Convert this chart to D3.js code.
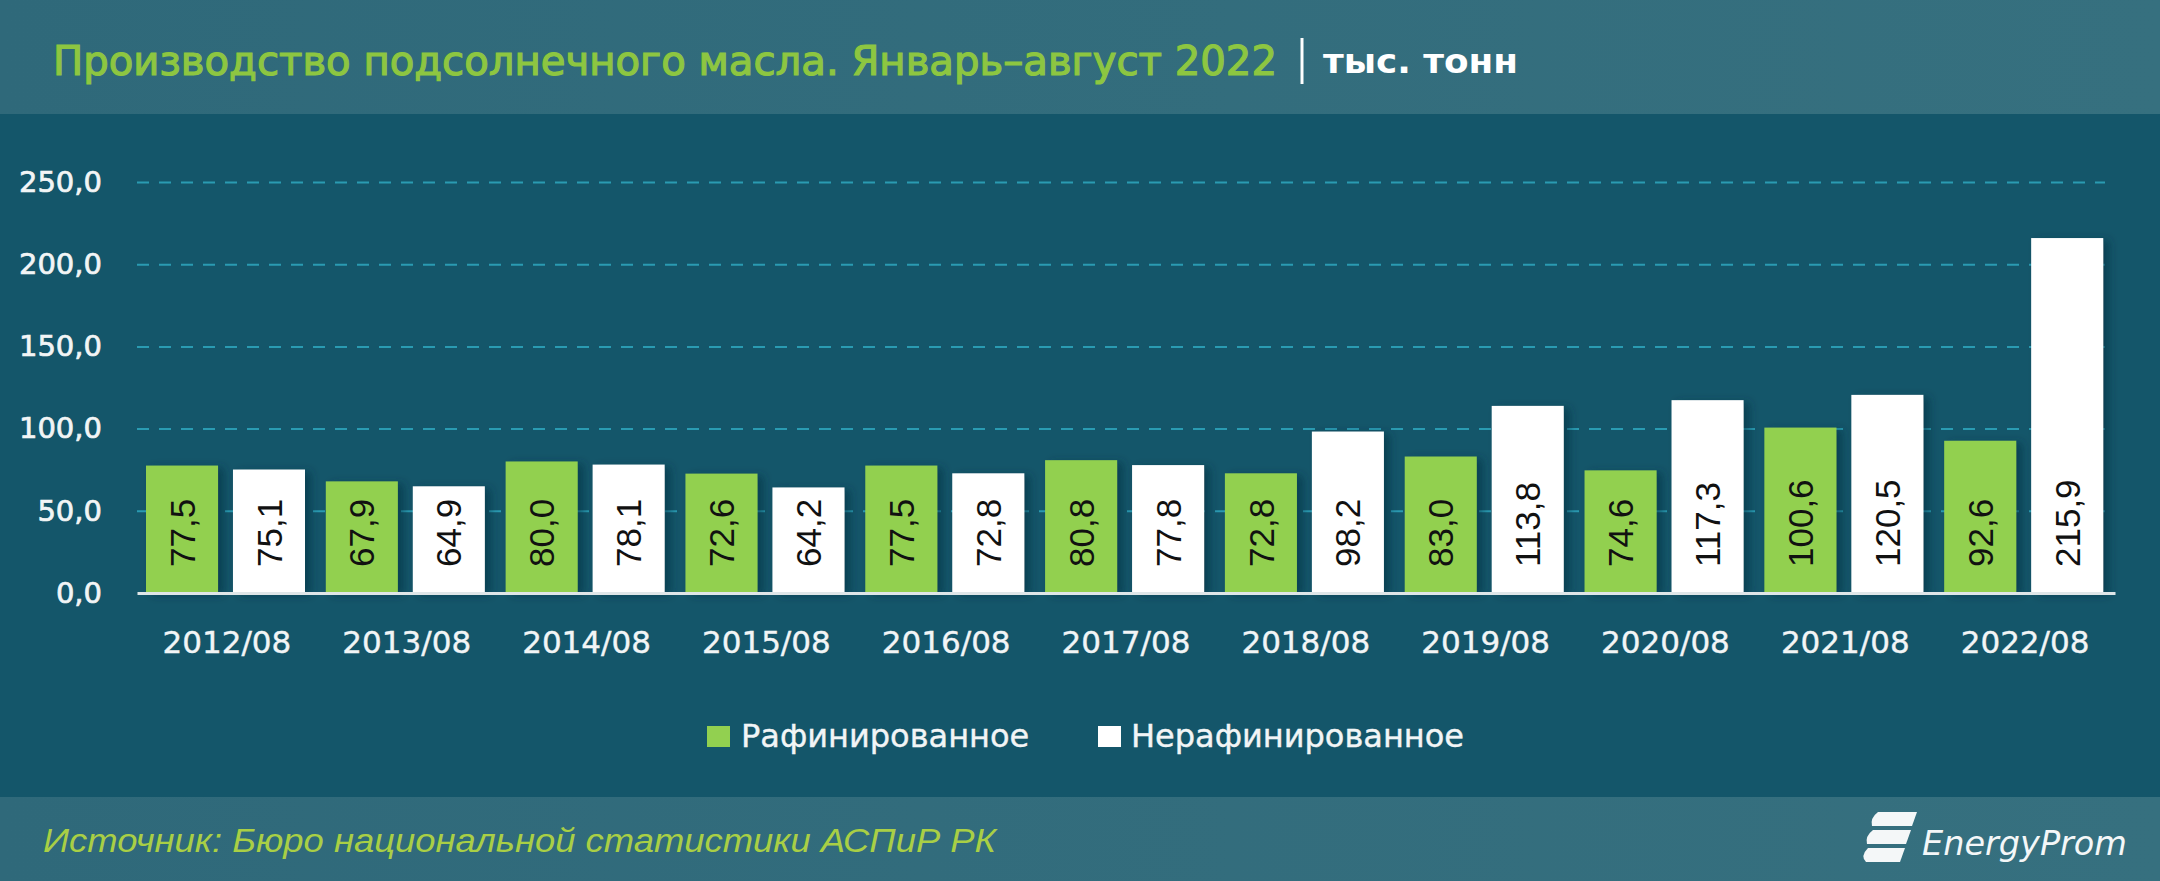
<!DOCTYPE html>
<html>
<head>
<meta charset="utf-8">
<script src="https://cdn.jsdelivr.net/npm/d3@7"></script>
<style>
  html, body { margin: 0; padding: 0; background: #14566a; }
  svg { display: block; }
</style>
</head>
<body>
<svg id="chart" width="2160" height="881"></svg>
<script>
// ---- data ----
const categories = ["2012/08","2013/08","2014/08","2015/08","2016/08","2017/08","2018/08","2019/08","2020/08","2021/08","2022/08"];
const refined   = [77.5, 67.9, 80.0, 72.6, 77.5, 80.8, 72.8, 83.0, 74.6, 100.6, 92.6];
const unrefined = [75.1, 64.9, 78.1, 64.2, 72.8, 77.8, 98.2, 113.8, 117.3, 120.5, 215.9];
const seriesNames = ["Рафинированное", "Нерафинированное"];
const yTicks = [0, 50, 100, 150, 200, 250];
const titleText = "Производство подсолнечного масла. Январь–август 2022";
const unitText = "тыс. тонн";
const sourceText = "Источник: Бюро национальной статистики АСПиР РК";

// ---- setup ----
const W = 2160, H = 881;
const svg = d3.select("#chart");
const fmt = d3.formatLocale({decimal: ",", thousands: " ", grouping: [3], currency: ["", ""]}).format(".1f");
const colors = {raf: "#92d050", nraf: "#ffffff"};

const defs = svg.append("defs");
const grad = defs.append("linearGradient").attr("id", "band").attr("x1", 0).attr("x2", 1).attr("y1", 0).attr("y2", 0);
grad.append("stop").attr("offset", "0%").attr("stop-color", "#2f697a");
grad.append("stop").attr("offset", "100%").attr("stop-color", "#36707f");
const sh = defs.append("filter").attr("id", "shadow").attr("x", "-20%").attr("y", "-10%").attr("width", "150%").attr("height", "130%");
sh.append("feDropShadow").attr("dx", 6).attr("dy", 2).attr("stdDeviation", 4)
  .attr("flood-color", "#06303c").attr("flood-opacity", 0.55);

// backgrounds
svg.append("rect").attr("x", 0).attr("y", 0).attr("width", W).attr("height", 114).attr("fill", "url(#band)");
svg.append("rect").attr("x", 0).attr("y", 114).attr("width", W).attr("height", 683).attr("fill", "#14566a");
svg.append("rect").attr("x", 0).attr("y", 797).attr("width", W).attr("height", 84).attr("fill", "url(#band)");

// title
svg.append("text").attr("x", 53).attr("y", 75)
  .attr("font-family", "'DejaVu Sans Condensed', 'Liberation Sans Narrow', sans-serif")
  .attr("font-size", 40).attr("fill", "#8dc641")
  .attr("stroke", "#8dc641").attr("stroke-width", 1.1)
  .attr("textLength", 1224).attr("lengthAdjust", "spacingAndGlyphs")
  .text(titleText);
svg.append("line").attr("x1", 1302).attr("x2", 1302).attr("y1", 38).attr("y2", 84)
  .attr("stroke", "#ffffff").attr("stroke-width", 3);
svg.append("text").attr("x", 1323).attr("y", 73)
  .attr("font-family", "'DejaVu Sans', sans-serif").attr("font-weight", "bold")
  .attr("font-size", 34).attr("fill", "#ffffff")
  .attr("textLength", 195).attr("lengthAdjust", "spacingAndGlyphs")
  .text(unitText);

// scales
const x0 = d3.scaleBand().domain(categories).range([137, 2115]).padding(0);
const x1 = d3.scaleBand().domain(["raf", "nraf"]).range([9, 168]).paddingInner(0.172).paddingOuter(0);
const y = d3.scaleLinear().domain([0, 250]).range([593, 182]);

// grid
const grid = svg.append("g").attr("transform", "translate(137,0)")
  .call(d3.axisLeft(y).tickValues(yTicks.filter(v => v > 0)).tickSize(-(2105 - 137)).tickFormat(""));
grid.select(".domain").remove();
grid.selectAll(".tick line").attr("stroke", "#2a9bb2").attr("stroke-width", 2).attr("stroke-dasharray", "12,10");

// y labels
const yAxis = svg.append("g").attr("transform", "translate(137,0)")
  .call(d3.axisLeft(y).tickValues(yTicks).tickSize(0).tickPadding(35).tickFormat(fmt));
yAxis.select(".domain").remove();
yAxis.selectAll("text").attr("font-family", "'DejaVu Sans', sans-serif").attr("font-size", 29)
  .attr("fill", "#f2f5f6").attr("stroke", "#f2f5f6").attr("stroke-width", 0.7);

// bars
const rows = categories.map((c, i) => ({cat: c, vals: [{k: "raf", v: refined[i]}, {k: "nraf", v: unrefined[i]}]}));
const groups = svg.append("g").selectAll("g").data(rows).join("g")
  .attr("transform", d => `translate(${x0(d.cat)},0)`);
groups.selectAll("rect").data(d => d.vals).join("rect")
  .attr("x", d => x1(d.k)).attr("width", x1.bandwidth())
  .attr("y", d => y(d.v)).attr("height", d => y(0) - y(d.v))
  .attr("fill", d => colors[d.k]).attr("filter", "url(#shadow)");
const lblSize = 35;
groups.selectAll("text").data(d => d.vals).join("text")
  .attr("transform", d => `translate(${x1(d.k) + x1.bandwidth() / 2 + lblSize * 0.36},${y(0) - 26}) rotate(-90)`)
  .attr("text-anchor", "start")
  .attr("font-family", "'Liberation Sans', Arial, sans-serif").attr("font-size", lblSize)
  .attr("fill", "#111111")
  .text(d => fmt(d.v));

// x axis
const xAxis = svg.append("g").attr("transform", `translate(0,${y(0)})`)
  .call(d3.axisBottom(x0).tickSize(0).tickPadding(38));
xAxis.select(".domain").attr("stroke", "#dfe6e8").attr("stroke-width", 3);
xAxis.selectAll("text").attr("font-family", "'DejaVu Sans', sans-serif").attr("font-size", 31)
  .attr("fill", "#f2f5f6").attr("stroke", "#f2f5f6").attr("stroke-width", 0.4);

// legend
const legend = [{name: seriesNames[0], c: colors.raf, x: 707, tx: 741}, {name: seriesNames[1], c: colors.nraf, x: 1098, tx: 1131}];
const lg = svg.append("g");
lg.selectAll("rect").data(legend).join("rect")
  .attr("x", d => d.x).attr("y", 726).attr("width", 23).attr("height", 21).attr("fill", d => d.c);
lg.selectAll("text").data(legend).join("text")
  .attr("x", d => d.tx).attr("y", 747)
  .attr("font-family", "'DejaVu Sans', sans-serif").attr("font-size", 32).attr("fill", "#f2f5f6")
  .attr("stroke", "#f2f5f6").attr("stroke-width", 0.4)
  .text(d => d.name);

// footer
svg.append("text").attr("x", 43).attr("y", 852)
  .attr("font-family", "'Liberation Sans', sans-serif").attr("font-style", "italic")
  .attr("font-size", 34).attr("fill", "#a9cf45")
  .attr("textLength", 953).attr("lengthAdjust", "spacingAndGlyphs")
  .text(sourceText);

// logo
const logo = svg.append("g").attr("fill", "#f4f7f8");
logo.append("path").attr("d", "M1878,812 L1917,812 L1912,826 L1872,826 Q1870,818 1878,812 Z");
logo.append("path").attr("d", "M1873,830 L1911,830 L1906,844 L1867,844 Q1865,836 1873,830 Z");
logo.append("path").attr("d", "M1868,848 L1905,848 L1900,862 L1866,862 Q1860,856 1868,848 Z");
logo.append("text").attr("x", 1922).attr("y", 855)
  .attr("font-family", "'DejaVu Sans', sans-serif").attr("font-style", "italic")
  .attr("font-size", 34).attr("fill", "#f4f7f8")
  .attr("textLength", 205).attr("lengthAdjust", "spacingAndGlyphs")
  .text("EnergyProm");
</script>
</body>
</html>
